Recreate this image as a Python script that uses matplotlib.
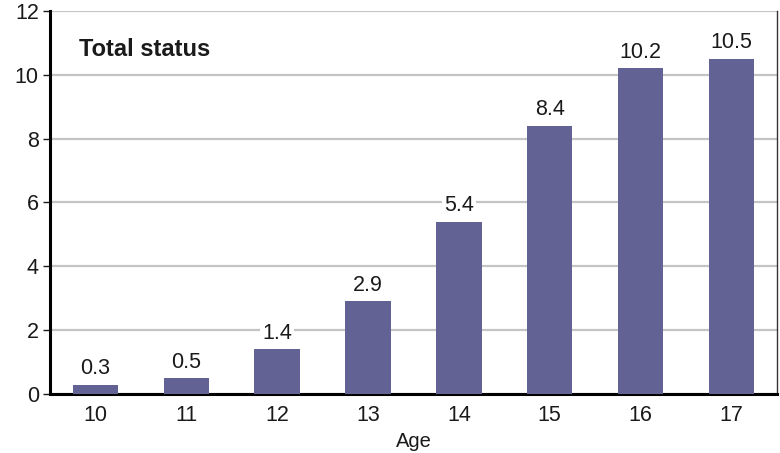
import matplotlib
matplotlib.use("Agg")
import matplotlib.pyplot as plt

ages = ["10", "11", "12", "13", "14", "15", "16", "17"]
values = [0.3, 0.5, 1.4, 2.9, 5.4, 8.4, 10.2, 10.5]
value_labels = ["0.3", "0.5", "1.4", "2.9", "5.4", "8.4", "10.2", "10.5"]
yticks = [0, 2, 4, 6, 8, 10, 12]

plt.rcParams['font.family'] = ['Liberation Sans', 'DejaVu Sans']

fig = plt.figure(figsize=(7.8, 4.53), dpi=100)
ax = fig.add_axes([0.064, 0.130, 0.932, 0.846])

x = list(range(len(ages)))
ax.bar(x, values, width=0.5, color="#626294", zorder=3)

for xi, v, lab in zip(x, values, value_labels):
    ax.annotate(lab, (xi, v), xytext=(0, 4), textcoords="offset points",
                ha="center", va="bottom", fontsize=15.5, color="#1a1a1a",
                bbox=dict(facecolor="white", edgecolor="none", pad=1.5),
                zorder=4)

ax.set_xlim(-0.5, 7.5)
ax.set_ylim(0, 12)
ax.set_yticks(yticks)
ax.set_xticks(x)
ax.set_xticklabels(ages)
ax.yaxis.grid(True, color="#c4c4c4", linewidth=1.6, zorder=0)
ax.set_axisbelow(True)

ax.tick_params(axis="y", direction="out", length=5, width=1, labelsize=15.5, colors="#1a1a1a", pad=3)
ax.tick_params(axis="x", length=0, labelsize=15.5, colors="#1a1a1a", pad=8)

ax.spines["top"].set_visible(False)
ax.spines["left"].set_linewidth(2.2)
ax.spines["bottom"].set_linewidth(2.2)
ax.spines["right"].set_linewidth(1.0)
ax.spines["right"].set_color("#333333")

ax.set_xlabel("Age", fontsize=14.5, color="#1a1a1a", labelpad=4)
ax.text(0.04, 0.90, "Total status", transform=ax.transAxes, fontsize=17,
        fontweight="bold", color="#1a1a1a", ha="left", va="center")

fig.savefig("out.png", dpi=100)
